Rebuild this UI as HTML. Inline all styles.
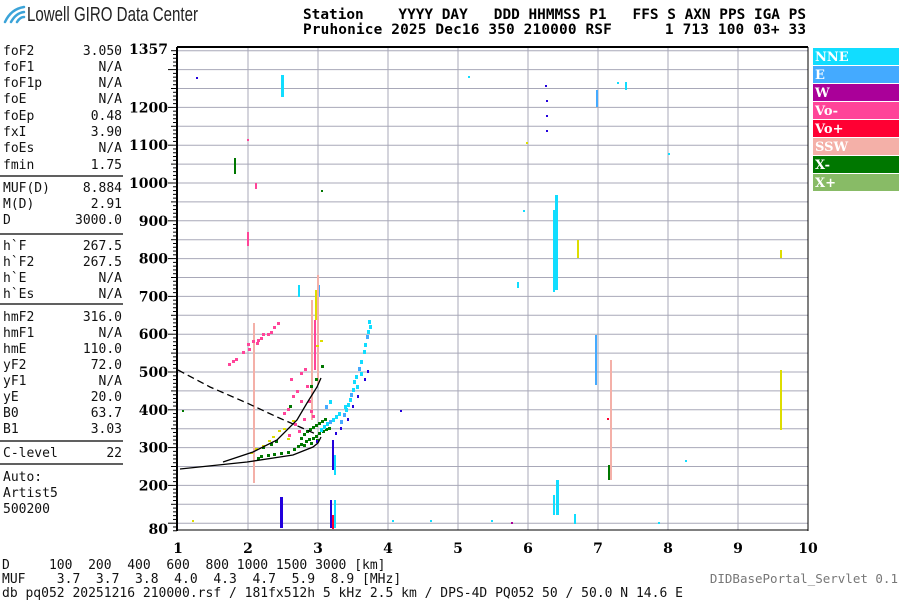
<!DOCTYPE html>
<html><head><meta charset="utf-8"><style>
html,body{margin:0;padding:0;background:#fff;width:900px;height:600px;overflow:hidden}
svg{display:block}
.m{font-family:"DejaVu Sans Mono","Liberation Mono",monospace;font-size:13px;fill:#111;white-space:pre}
.h{font-family:"DejaVu Sans Mono","Liberation Mono",monospace;font-size:14.4px;font-weight:bold;fill:#000;white-space:pre}
.ax{font-family:"DejaVu Serif","Liberation Serif",serif;font-size:14px;font-weight:bold;fill:#000}
.lg{font-family:"DejaVu Serif","Liberation Serif",serif;font-size:13px;font-weight:bold;fill:#fff}
</style></head><body>
<svg id="s" width="900" height="600" xmlns="http://www.w3.org/2000/svg">
<g fill="none" stroke="#3ba3d8" stroke-width="2.5" stroke-linecap="round">
<path d="M5 22 Q11 9 24 7"/><path d="M11 22 Q16 13 24 12"/><path d="M17 22 Q20 17 24 17"/>
</g>
<text x="27" y="21" font-family="Liberation Sans Narrow,Liberation Sans,sans-serif" font-size="20" fill="#222" textLength="171" lengthAdjust="spacingAndGlyphs">Lowell GIRO Data Center</text>
<text class="h" x="303" y="19" textLength="503" lengthAdjust="spacing">Station    YYYY DAY   DDD HHMMSS P1   FFS S AXN PPS IGA PS</text>
<text class="h" x="303" y="34" textLength="503" lengthAdjust="spacing">Pruhonice 2025 Dec16 350 210000 RSF      1 713 100 03+ 33</text>
<g id="grid" stroke="#a8a8b8" stroke-width="1"></g>
<g id="pts"></g>
<g id="lp" class="m"></g>
<g stroke="#000" stroke-width="1.3" fill="none">
<path d="M180 469 L247 462 L293 455 L313 447 L318 443 L321 437"/>
<path d="M223 462 L253 452 L277 440 L297 420 L307 403 L317 387 L321 378"/>
<path d="M178 370 L210 387 L247 403 L277 417 L300 427 L318 435" stroke-dasharray="7,4"/>
</g>
<line x1="177" y1="47" x2="808" y2="47" stroke="#000" stroke-width="2"/>
<line x1="177" y1="47" x2="177" y2="531" stroke="#000" stroke-width="2"/>
<line x1="808" y1="47" x2="808" y2="531" stroke="#000" stroke-width="1"/>
<line x1="177" y1="530" x2="808" y2="530" stroke="#000" stroke-width="1"/>
<text class="ax" x="168" y="54" text-anchor="end">1357</text>
<text class="ax" x="168" y="534" text-anchor="end">80</text>
<g id="lab"></g>
<text class="m" x="2" y="569">D     100  200  400  600  800 1000 1500 3000 [km]</text>
<text class="m" x="2" y="583">MUF    3.7  3.7  3.8  4.0  4.3  4.7  5.9  8.9 [MHz]</text>
<text class="m" x="2" y="597" font-size="12.4">db pq052 20251216 210000.rsf / 181fx512h 5 kHz 2.5 km / DPS-4D PQ052 50 / 50.0 N 14.6 E</text>
<text x="898" y="583" text-anchor="end" font-family="DejaVu Sans Mono,Liberation Mono,monospace" font-size="12.5" fill="#777">DIDBasePortal_Servlet 0.1</text>
<g id="leg"></g>
</svg>
<script>
var NS="http://www.w3.org/2000/svg";
function el(p,t,a,tx){var e=document.createElementNS(NS,t);for(var k in a)e.setAttribute(k,a[k]);if(tx!=null)e.textContent=tx;document.getElementById(p).appendChild(e);return e;}
function Y(h){return 183-(h-1000)*0.378;}
function X(f){return 178+(f-1)*70;}
for(var h=100;h<=1350;h+=50){var y=Y(h);el('grid','line',{x1:177,x2:808,y1:y,y2:y});}
for(var f=2;f<=9;f++)el('grid','line',{x1:X(f),x2:X(f),y1:47,y2:530});
for(var h=80;h<=1357;h+=10){var y=Y(h);var L=(h%100==0)?9:(h%50==0?6:4);el('grid','line',{x1:177-L,x2:177,y1:y,y2:y,stroke:'#000'});}
for(var h=200;h<=1200;h+=100)el('lab','text',{'class':'ax',x:168,y:Y(h)+5,'text-anchor':'end'},h);
for(var f=1;f<=10;f++)el('lab','text',{'class':'ax',x:X(f),y:553,'text-anchor':'middle'},f);
var rows=[["foF2","3.050",50],["foF1","N/A",66],["foF1p","N/A",82],["foE","N/A",98],["foEp","0.48",115],["fxI","3.90",131],["foEs","N/A",147],["fmin","1.75",164],
["MUF(D)","8.884",187],["M(D)","2.91",203],["D","3000.0",219],["h`F","267.5",245],["h`F2","267.5",261],["h`E","N/A",277],["h`Es","N/A",293],
["hmF2","316.0",316],["hmF1","N/A",332],["hmE","110.0",348],["yF2","72.0",364],["yF1","N/A",380],["yE","20.0",396],["B0","63.7",412],["B1","3.03",428],
["C-level","22",452],["Auto:","",476],["Artist5","",492],["500200","",508]];
rows.forEach(function(r){el('lp','text',{x:3,y:r[2]+5},r[0]);if(r[1])el('lp','text',{x:122,y:r[2]+5,'text-anchor':'end'},r[1]);});
[176,234,304,441,464].forEach(function(y){el('lp','line',{x1:0,x2:123,y1:y,y2:y,stroke:'#000','stroke-width':1.3});});
var lg=[["NNE","#11ddff"],["E","#44aaff"],["W","#aa0099"],["Vo-","#ff4499"],["Vo+","#ff0033"],["SSW","#f4b0a8"],["X-","#007700"],["X+","#88bb66"]];
lg.forEach(function(l,i){var y=48+i*18;el('leg','rect',{x:813,y:y,width:86,height:17,fill:l[1]});el('leg','text',{'class':'lg',x:815,y:y+13},l[0]);});
var C={c:"#11ddff",e:"#44aaff",w:"#aa0099",p:"#ff4499",r:"#ff0033",s:"#f4b0a8",g:"#007700",l:"#88bb66",y:"#dddd00",b:"#2200dd"};
function R(x,y,w,h,c){el('pts','rect',{x:x,y:y,width:w,height:h,fill:C[c]});}
R(281,75,3,22,'c');R(555,195,3,95,'c');R(553,210,3,80,'c');R(553,272,2,20,'c');R(556,480,3,35,'c');R(553,495,2,20,'c');
R(596,90,2,17,'e');R(595,335,2,50,'e');R(280,497,3,31,'b');R(517,282,2,6,'c');
R(196,77,2,2,'b');R(247,139,2,2,'p');R(234,158,2,16,'g');R(255,183,2,6,'p');R(247,232,2,14,'p');R(298,285,2,12,'c');R(321,190,2,2,'g');
R(545,85,2,2,'b');R(546,100,2,2,'b');R(546,115,2,2,'b');R(546,130,2,2,'b');R(577,240,2,18,'y');R(610,360,2,120,'s');R(607,418,2,2,'r');R(608,465,2,15,'g');
R(617,82,2,2,'c');R(625,82,2,8,'c');R(668,153,2,2,'c');R(780,250,2,8,'y');R(780,370,2,60,'y');R(315,290,2,30,'y');R(318,285,2,12,'e');
R(468,76,2,2,'c');R(523,210,2,2,'c');R(574,514,2,10,'c');R(526,142,2,2,'y');R(685,460,2,2,'c');R(400,410,2,2,'b');
R(330,500,2,28,'b');R(332,515,2,14,'r');R(334,500,2,28,'c');R(332,440,2,30,'b');R(334,455,2,20,'c');R(392,520,2,2,'c');R(430,520,2,2,'c');R(491,520,2,2,'c');R(511,522,2,2,'w');R(658,522,2,2,'c');R(182,410,2,2,'g');R(192,520,2,2,'y');
R(253,323,2,160,'s');R(311,300,2,120,'s');R(317,275,2,110,'s');R(314,320,2,50,'p');
var pk=[[228,363],[232,360],[235,358],[242,351],[248,348],[256,342],[257,339],[260,337],[270,331],[267,333],[273,326],[277,322],[247,343],[252,340],[262,333],[290,378],[292,395],[296,390],[300,372],[304,368],[306,385],[308,400],[310,410],[312,415],[300,400],[283,412],[287,408],[303,418],[294,423],[298,430],[288,434]];
pk.forEach(function(p){R(p[0],p[1],3,3,'p');});
var gr=[[257,457],[260,455],[267,454],[273,453],[280,452],[287,451],[293,448],[297,445],[300,443],[305,440],[308,438],[312,437],[315,435],[318,432],[322,430],[325,428],[328,427],[300,437],[303,433],[306,430],[309,428],[312,426],[315,424],[318,422],[321,420],[324,418],[303,444],[310,442],[316,439],[270,443],[275,440],[262,446],[289,405],[310,385],[315,378],[321,365]];
gr.forEach(function(p){R(p[0],p[1],3,3,'g');});
var cy=[[320,428],[323,425],[326,422],[329,420],[332,418],[335,415],[338,412],[343,413],[345,408],[347,403],[349,398],[350,393],[352,388],[353,380],[355,375],[358,367],[360,360],[363,350],[364,343],[366,335],[367,330],[368,320],[369,325],[340,420],[344,405],[356,385],[360,372],[325,405],[329,400]];
cy.forEach(function(p,i){R(p[0],p[1],3,4,i%4==3?'e':'c');});
var yl=[[262,445],[268,440],[272,436],[278,430],[283,428],[292,420],[250,452],[255,448],[287,438],[320,340],[316,345]];
yl.forEach(function(p){R(p[0],p[1],3,2,'y');});
var bl=[[347,418],[352,405],[357,395],[364,378],[367,370],[316,440],[335,432],[340,427]];
bl.forEach(function(p){R(p[0],p[1],2,3,'b');});
</script>
</body></html>
